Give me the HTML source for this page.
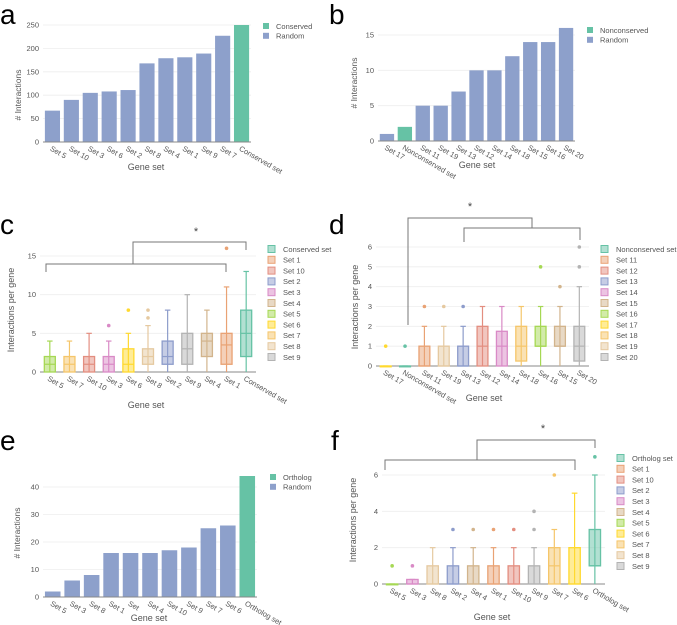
<!DOCTYPE html>
<html><head><meta charset="utf-8"><style>
html,body{margin:0;padding:0;background:#fff}
svg{display:block;font-family:"Liberation Sans","DejaVu Sans",sans-serif}
</style></head><body>
<svg id="fig" width="677" height="625" viewBox="0 0 677 625" xmlns="http://www.w3.org/2000/svg"></svg>
<script>
// ---------- data ----------
const aCats=["Set 5","Set 10","Set 3","Set 6","Set 2","Set 8","Set 4","Set 1","Set 9","Set 7","Conserved set"];
const aVals=[67,90,105,108,111,168,179,181,189,227,250];
const aTicks=[0,50,100,150,200,250];
const bCats=["Set 17","Nonconserved set","Set 11","Set 19","Set 13","Set 12","Set 14","Set 18","Set 15","Set 16","Set 20"];
const bVals=[1,2,5,5,7,10,10,12,14,14,16];
const bTicks=[0,5,10,15];
const eCats=["Set 5","Set 3","Set 8","Set 1","Set","Set 4","Set 10","Set 9","Set 7","Set 6","Ortholog set"];
const eVals=[2,6,8,16,16,16,17,18,25,26,44];
const eTicks=[0,10,20,30,40];

const cCats=["Set 5","Set 7","Set 10","Set 3","Set 6","Set 8","Set 2","Set 9","Set 4","Set 1","Conserved set"];
const cQ1=[0,0,0,0,0,1,1,1,2,1,2];
const cMed=[1,1,1,1,1,2,2,3,4,3.5,5];
const cQ3=[2,2,2,2,3,3,4,5,5,5,8];
const cLo=[0,0,0,0,0,0,0,0,0,0,0];
const cHi=[4,4,5,4,5,6,8,10,8,11,13];
const cOut=[[],[],[],[6],[8],[7,8],[],[],[],[16],[]];
const cTicks=[0,5,10,15];
const cLegend=["Conserved set","Set 1","Set 10","Set 2","Set 3","Set 4","Set 5","Set 6","Set 7","Set 8","Set 9"];

const dCats=["Set 17","Nonconserved set","Set 11","Set 19","Set 13","Set 12","Set 14","Set 18","Set 16","Set 15","Set 20"];
const dQ1=[0,0,0,0,0,0,0,0.25,1,1,0.25];
const dMed=[0,0,0,0,0,1,1,1,1,1,1];
const dQ3=[0,0,1,1,1,2,1.75,2,2,2,2];
const dLo=[0,0,0,0,0,0,0,0,0,0,0];
const dHi=[0,0,2,2,2,3,3,3,3,3,4];
const dOut=[[1],[1],[3],[3],[3],[],[],[],[5],[4],[5,6]];
const dTicks=[0,1,2,3,4,5,6];
const dLegend=["Nonconserved set","Set 11","Set 12","Set 13","Set 14","Set 15","Set 16","Set 17","Set 18","Set 19","Set 20"];

const fCats=["Set 5","Set 3","Set 8","Set 2","Set 4","Set 1","Set 10","Set 9","Set 7","Set 6","Ortholog set"];
const fQ1=[0,0,0,0,0,0,0,0,0,0,1];
const fMed=[0,0,0,0,0,0,0,0,1,0,1];
const fQ3=[0,0.25,1,1,1,1,1,1,2,2,3];
const fLo=[0,0,0,0,0,0,0,0,0,0,0];
const fHi=[0,0.25,2,2,2,2,2,2,3,5,6];
const fOut=[[1],[1],[],[3],[3],[3],[3],[3,4],[6],[],[7]];
const fTicks=[0,2,4,6];
const fLegend=["Ortholog set","Set 1","Set 10","Set 2","Set 3","Set 4","Set 5","Set 6","Set 7","Set 8","Set 9"];

// ---------- helpers ----------
const NS="http://www.w3.org/2000/svg";
const svg=document.getElementById('fig');
function el(tag,attrs,parent,text){const e=document.createElementNS(NS,tag);for(const k in attrs)e.setAttribute(k,attrs[k]);if(text!==undefined)e.textContent=text;(parent||svg).appendChild(e);return e;}
const PAL=["#66c2a5","#e9a274","#e38e80","#8d9ccb","#d98ac6","#d2b48c","#a6d854","#ffd92f","#f5c66a","#e5c9a0","#b3b3b3"];
function setColor(name,legend){const i=legend.indexOf(name);return PAL[i<0?0:i];}

function axes(g,p,ticks){
  const sy=v=>p.y0-(v/p.max)*(p.y0-p.yTop);
  ticks.forEach(t=>{
    const y=sy(t);
    const gl=el('line',{x1:p.x0,x2:p.x1,y1:y,y2:y,stroke:t===0?'#888':'#eeeeee','stroke-width':t===0?1:0.8},g);
    
    
    const tl=el('text',{x:p.x0-4,y:y+2.5,'font-size':7.5,fill:'#555','text-anchor':'end'},g,String(t));
    
    
  });
  return sy;
}
function xLabels(g,p,cats){
  const step=(p.x1-p.x0)/cats.length;
  cats.forEach((c,i)=>{
    const cx=p.x0+step*(i+0.5)-3;
    const t=el('text',{x:cx,y:p.y0+8,'font-size':7.5,fill:'#555',transform:`rotate(30 ${cx} ${p.y0+8})`},g,c);
    
    
  });
  return step;
}
function titles(g,p){
  const yt=el('text',{x:p.ytx,y:p.yty,'font-size':p.ytsize||8.5,fill:'#555','text-anchor':'middle',transform:`rotate(-90 ${p.ytx} ${p.yty})`},g,p.ytitle);
  
  
  const xt=el('text',{x:p.xtx,y:p.xty,'font-size':9,fill:'#555','text-anchor':'middle'},g,'Gene set');
  
  
  const pl=el('text',{x:p.lx,y:p.ly,'font-size':28,fill:'#000'},g,p.letter);
  
  
}
function barPanel(p,cats,vals,ticks,hiName,legendNames){
  const g=el('g',{});
  
  
  const sy=axes(g,p,ticks);
  const step=(p.x1-p.x0)/cats.length;
  cats.forEach((c,i)=>{
    const w=step*0.8, x=p.x0+step*i+(step-w)/2, y=sy(vals[i]);
    const r=el('rect',{x:x,y:y,width:w,height:p.y0-y,fill:c===hiName?'#66c2a5':'#8da0cb'},g);
    
    
  });
  el('line',{x1:p.x0,x2:p.x1,y1:p.y0,y2:p.y0,stroke:'#888','stroke-width':1},g);
  xLabels(g,p,cats);
  legendNames.forEach((n,i)=>{
    const ly=p.legY+i*9.8;
    const s=el('rect',{x:p.legX,y:ly-3,width:6,height:6,fill:i===0?'#66c2a5':'#8da0cb'},g);
    
    
    const t=el('text',{x:p.legX+13,y:ly+2.8,'font-size':7.5,fill:'#555'},g,n);
    
    
  });
  titles(g,p);
}
function boxPanel(p,cats,q1,med,q3,lo,hi,outs,ticks,legend){
  const g=el('g',{});
  
  
  const sy=axes(g,p,ticks);
  const step=(p.x1-p.x0)/cats.length;
  cats.forEach((c,i)=>{
    const col=setColor(c,legend);
    const cx=p.x0+step*(i+0.5), w=step*0.56;
    const wh=el('line',{x1:cx,x2:cx,y1:sy(lo[i]),y2:sy(hi[i]),stroke:col,'stroke-width':1.2},g);
    
    
    const cap=el('line',{x1:cx-w/4,x2:cx+w/4,y1:sy(hi[i]),y2:sy(hi[i]),stroke:col,'stroke-width':1.2},g);
    
    
    const b=el('rect',{x:cx-w/2,y:sy(q3[i]),width:w,height:Math.max(sy(q1[i])-sy(q3[i]),0.8),fill:col,'fill-opacity':0.5,stroke:col,'stroke-width':1.3},g);
    
    
    const m=el('line',{x1:cx-w/2,x2:cx+w/2,y1:sy(med[i]),y2:sy(med[i]),stroke:col,'stroke-width':1.2},g);
    
    
    outs[i].forEach(o=>{
      const d=el('circle',{cx:cx,cy:sy(o),r:1.8,fill:col},g);
      
      
    });
  });
  xLabels(g,p,cats);
  legend.forEach((n,i)=>{
    const ly=p.legY+i*10.8, col=PAL[i];
    const s=el('rect',{x:p.legX,y:ly-3.5,width:7,height:7,fill:col,'fill-opacity':0.5,stroke:col,'stroke-width':1},g);
    
    
    const t=el('text',{x:p.legX+15,y:ly+2.8,'font-size':7.5,fill:'#555'},g,n);
    
    
  });
  titles(g,p);
  const bg=el('g',{stroke:'#777','stroke-width':1,fill:'none'},g);
  
  
  p.bracket.forEach(d=>el('path',{d:d},bg));
  const st=el('text',{x:p.star[0],y:p.star[1],'font-size':11,fill:'#444','text-anchor':'middle'},g,'*');
  
  
}

// ---------- panels ----------
barPanel({name:'panel-a',x0:43,x1:251,y0:142,yTop:25,max:250,legX:263,legY:26,
  ytitle:'# Interactions',ytx:21,yty:95,xtx:146,xty:170,letter:'a',lx:0,ly:24},aCats,aVals,aTicks,'Conserved set',['Conserved','Random']);
barPanel({name:'panel-b',x0:378,x1:575,y0:141,yTop:35,max:15,legX:587,legY:30,
  ytitle:'# Interactions',ytx:357,yty:83,xtx:477,xty:168,letter:'b',lx:329,ly:24},bCats,bVals,bTicks,'Nonconserved set',['Nonconserved','Random']);
barPanel({name:'panel-e',x0:43,x1:257,y0:597,yTop:487,max:40,legX:270,legY:477,
  ytitle:'# Interactions',ytx:20,yty:533,xtx:149,xty:621,letter:'e',lx:0,ly:450},eCats,eVals,eTicks,'Ortholog set',['Ortholog','Random']);

boxPanel({name:'panel-c',x0:40,x1:256,y0:372,yTop:256,max:15,legX:268,legY:249,
  ytitle:'Interactions per gene',ytsize:9,ytx:14,yty:310,xtx:146,xty:408,letter:'c',lx:0,ly:234,
  bracket:['M46 272 V264 H226 V272','M133 264 V242 H246 V250'],star:[196,235]},
  cCats,cQ1,cMed,cQ3,cLo,cHi,cOut,cTicks,cLegend);
boxPanel({name:'panel-d',x0:376,x1:589,y0:366,yTop:247,max:6,legX:601,legY:249,
  ytitle:'Interactions per gene',ytsize:9,ytx:358,yty:307,xtx:484,xty:401,letter:'d',lx:329,ly:234,
  bracket:['M408 325 V218 H532 V228','M464 242 V228 H580 V240'],star:[470,210]},
  dCats,dQ1,dMed,dQ3,dLo,dHi,dOut,dTicks,dLegend);
boxPanel({name:'panel-f',x0:382,x1:605,y0:584,yTop:475,max:6,legX:617,legY:458,
  ytitle:'Interactions per gene',ytsize:9,ytx:356,yty:520,xtx:492,xty:620,letter:'f',lx:331,ly:450,
  bracket:['M385 470 V460 H575 V470','M477 460 V440 H595 V448'],star:[543,432]},
  fCats,fQ1,fMed,fQ3,fLo,fHi,fOut,fTicks,fLegend);
</script>
</body></html>
